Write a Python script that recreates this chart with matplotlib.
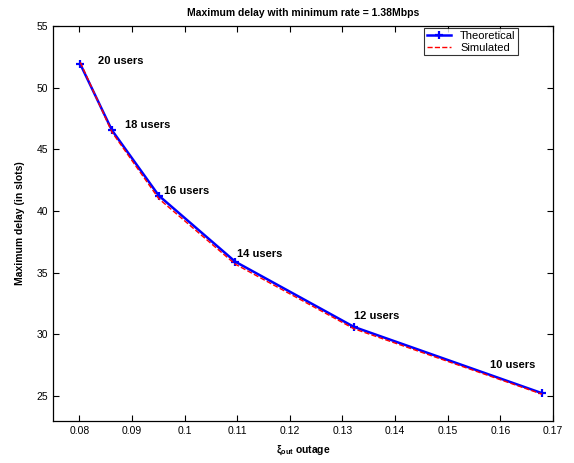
import matplotlib
matplotlib.use("Agg")
import matplotlib.pyplot as plt

plt.rcParams['font.family'] = ['Liberation Sans', 'DejaVu Sans']
plt.rcParams['mathtext.fontset'] = 'custom'
plt.rcParams['mathtext.rm'] = 'Liberation Sans:bold'
plt.rcParams['mathtext.it'] = 'Liberation Sans:bold'
plt.rcParams['mathtext.bf'] = 'Liberation Sans:bold'

# outage probability for each number of users
outage = [0.0802, 0.0862, 0.0951, 0.1096, 0.1322, 0.1679]
delay_theoretical = [51.9, 46.55, 41.25, 35.9, 30.6, 25.23]
delay_simulated = [52.05, 46.4, 41.0, 35.7, 30.45, 25.15]
user_labels = ['20 users', '18 users', '16 users', '14 users', '12 users', '10 users']
label_x = [0.0835, 0.0886, 0.0960, 0.1100, 0.1322, 0.1581]
label_y = [52.2, 47.0, 41.65, 36.5, 31.5, 27.5]

fig = plt.figure(figsize=(5.74, 4.63), dpi=100)
ax = fig.add_axes([0.0923, 0.0914, 0.8711, 0.8524])

ax.plot(outage, delay_theoretical, '-b+', lw=1.8, ms=6, mew=1.6, label='Theoretical')
ax.plot(outage, delay_simulated, '--r', lw=1, label='Simulated')

for lx, ly, txt in zip(label_x, label_y, user_labels):
    ax.text(lx, ly, txt, fontsize=8, fontweight='bold', va='center', ha='left')

ax.set_xlim(0.075, 0.17)
ax.set_ylim(23, 55)
ax.set_xticks([0.08, 0.09, 0.1, 0.11, 0.12, 0.13, 0.14, 0.15, 0.16, 0.17])
ax.set_xticklabels(['0.08', '0.09', '0.1', '0.11', '0.12', '0.13', '0.14', '0.15', '0.16', '0.17'])
ax.set_yticks([25, 30, 35, 40, 45, 50, 55])
ax.tick_params(direction='in', top=True, right=True, labelsize=7.5, length=4, width=0.8)
for s in ax.spines.values():
    s.set_linewidth(0.9)

ax.set_title('Maximum delay with minimum rate = 1.38Mbps', fontsize=7.5, fontweight='bold', pad=7)
ax.set_xlabel(r'$\xi_{out}$ outage', fontsize=7.5, fontweight='bold', labelpad=6)
ax.set_ylabel('Maximum delay (in slots)', fontsize=7.5, fontweight='bold', labelpad=8)

leg = ax.legend(loc='upper right', bbox_to_anchor=(0.935, 1.0), fontsize=8, frameon=True,
                fancybox=False, edgecolor='black', handlelength=2.2, borderpad=0.25,
                labelspacing=0.15, borderaxespad=0.2)
leg.get_frame().set_linewidth(0.8)

fig.savefig('out.png', dpi=100)
